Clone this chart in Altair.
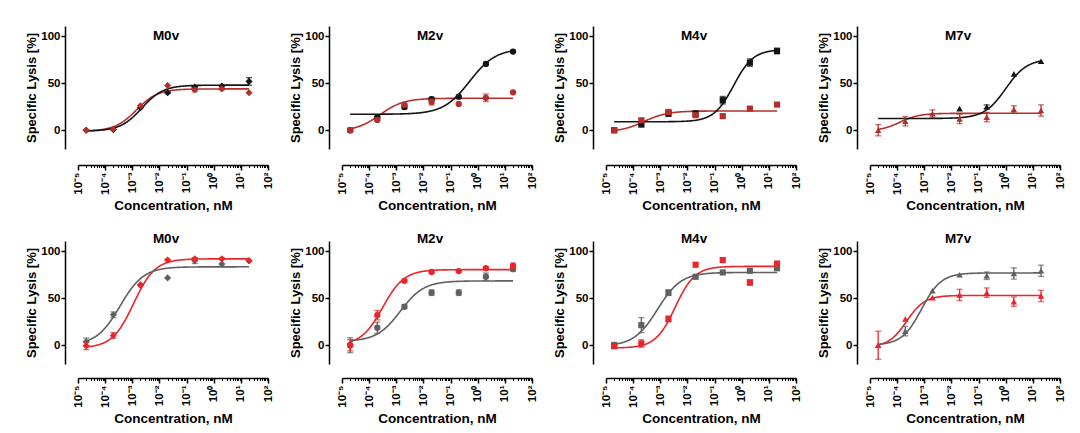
import math
import altair as alt
import pandas as pd

# ---------------- data ----------------
conc = [0.00002, 0.0002, 0.002, 0.02, 0.2, 2, 20]
panel_names = ["M0v", "M2v", "M4v", "M7v"]
panel_shapes = ["diamond", "circle", "square", "triangle-up"]

x_tick_values = [1e-5, 1e-4, 1e-3, 1e-2, 1e-1, 1e0, 1e1, 1e2]
x_tick_labels = ["10⁻⁵", "10⁻⁴", "10⁻³", "10⁻²", "10⁻¹", "10⁰", "10¹", "10²"]
x_minor_values = [m * 10.0 ** k for k in range(-5, 2) for m in range(2, 10)]
y_tick_values = [0, 50, 100]

# top row: black series and dark-red series (mean, error)
top_m0v_black = [0, 0.5, 24, 40, 46, 47, 52]
top_m0v_black_err = [0, 0, 0, 1, 1, 0, 4]
top_m0v_red = [0, 1, 26, 47.5, 43, 44, 40]
top_m0v_red_err = [0, 0, 0, 0, 2, 1, 0]

top_m2v_black = [0, 13.6, 24.6, 33, 35.7, 70.6, 83.8]
top_m2v_black_err = [2, 1, 2, 2, 0, 1, 1]
top_m2v_red = [0, 11, 27, 30, 28, 34.5, 40.4]
top_m2v_red_err = [2, 1, 1, 3, 0, 4, 0]

top_m4v_black = [0, 6, 17.7, 17.7, 32, 72, 84.4]
top_m4v_black_err = [1, 1, 3, 3, 4, 4, 3]
top_m4v_red = [0, 10.6, 19.5, 16, 15, 23, 27.3]
top_m4v_red_err = [0, 1, 1, 1, 0, 0, 0]

top_m7v_black = [None, None, None, 23, 25, 60, 73.5]
top_m7v_black_err = [0, 0, 0, 0, 2, 0, 0]
top_m7v_red = [0, 9.6, 17.7, 12, 14, 22, 21]
top_m7v_red_err = [6, 5, 4, 5, 5, 4, 6]

# bottom row: grey series and red series (mean, error)
bot_m0v_grey = [3.7, 32.4, 64.3, 71.7, 90, 86.4, 90]
bot_m0v_grey_err = [4, 3, 0, 0, 3, 0, 0]
bot_m0v_red = [-0.7, 10.3, 64, 90.8, 92, 92, 90]
bot_m0v_red_err = [4, 3, 0, 1, 1, 1, 0]

bot_m2v_grey = [0, 18.6, 41, 56, 56, 72.9, 81]
bot_m2v_grey_err = [8, 6, 2, 3, 3, 4, 2]
bot_m2v_red = [0, 32, 68.6, 78, 79, 82, 84.6]
bot_m2v_red_err = [6, 5, 1, 1, 1, 1, 3]

bot_m4v_grey = [0, 21.4, 56, 72.9, 77.5, 79.3, 82]
bot_m4v_grey_err = [3, 8, 3, 0, 0, 0, 0]
bot_m4v_red = [-1, 1.8, 28, 85.7, 90.7, 66.8, 87]
bot_m4v_red_err = [0, 4, 3, 0, 0, 3, 0]

bot_m7v_grey = [0, 15, 58, 75, 74, 76.4, 79.3]
bot_m7v_grey_err = [0, 5, 0, 0, 4, 6, 6]
bot_m7v_red = [0, 28, 50.7, 53.6, 56, 46.4, 52.5]
bot_m7v_red_err = [15, 0, 0, 6, 5, 5, 6]

# fitted 4-parameter curves: [bottom, top, logEC50, hill]
top_m0v_black_fit = [-1, 48, -2.65, 1.1]
top_m0v_red_fit = [-1, 44, -2.85, 1.1]
top_m2v_black_fit = [17, 87, -0.3, 0.9]
top_m2v_red_fit = [-1, 34, -3.6, 1.0]
top_m4v_black_fit = [9, 86, -0.3, 1.2]
top_m4v_red_fit = [-2, 20.5, -3.6, 1.0]
top_m7v_black_fit = [12.5, 76, 0.0, 1.1]
top_m7v_red_fit = [-1, 18, -3.9, 1.2]

bot_m0v_grey_fit = [0, 83.5, -3.45, 1.0]
bot_m0v_red_fit = [-3, 92, -2.95, 1.1]
bot_m2v_grey_fit = [4, 68.5, -2.85, 1.0]
bot_m2v_red_fit = [0, 80.5, -3.5, 1.1]
bot_m4v_grey_fit = [-1, 77.5, -3.1, 1.0]
bot_m4v_red_fit = [-3, 84, -2.45, 1.2]
bot_m7v_grey_fit = [0, 77, -3.1, 1.2]
bot_m7v_red_fit = [-2, 53, -3.65, 1.3]

# ---------------- styling ----------------
FONT = "Liberation Sans"
BLACK = "#141414"
DARK_RED = "#b3302d"
GREY = "#606060"
RED = "#e8262b"

W, H = 190, 123
Y_DOMAIN = [-20, 111]
X_DOMAIN = [1e-5, 1e2]

labels_js = "[" + ",".join("'" + s + "'" for s in x_tick_labels) + "]"
label_expr = labels_js + "[round(log(datum.value)/LN10) + 5]"

xscale = alt.Scale(type="log", domain=X_DOMAIN)
yscale = alt.Scale(domain=Y_DOMAIN, nice=False, zero=False)

y_axis = alt.Axis(values=y_tick_values, tickSize=4, tickWidth=1.5, domainWidth=1.5,
                  domainColor="black", tickColor="black", labelColor="black",
                  labelFontSize=11.5, labelFontWeight="bold", labelPadding=1,
                  title="Specific Lysis [%]", titleFontSize=13, titleFontWeight="bold",
                  titleColor="black", titlePadding=2, offset=13, grid=False)


def x_major_axis(offset):
    return alt.Axis(values=x_tick_values, labelExpr=label_expr, tickSize=5, tickWidth=1.5,
                    domainWidth=1.5, domainColor="black", tickColor="black",
                    labelColor="black", labelAngle=270, labelFontSize=11.5,
                    labelFontWeight="bold", labelPadding=2, labelOverlap=False,
                    labelFlush=False, title="Concentration, nM", titleFontSize=13.5,
                    titleFontWeight="bold", titleColor="black", titlePadding=4,
                    offset=offset, orient="bottom", grid=False)


def x_minor_axis(offset):
    return alt.Axis(values=x_minor_values, labels=False, domain=False, tickSize=2.5,
                    tickWidth=1, tickColor="black", title="", offset=offset,
                    orient="bottom", grid=False)


def curve_layer(fit, color, xaxis):
    b, t, ec, h = fit
    lo, hi = math.log10(conc[0]), math.log10(conc[-1])
    return (
        alt.Chart(alt.sequence(lo, hi + 0.001, 0.02, as_="t"))
        .transform_calculate(
            x="pow(10, datum.t)",
            y=f"{b} + ({t} - ({b})) / (1 + pow(10, ({h}) * (({ec}) - datum.t)))",
        )
        .mark_line(color=color, strokeWidth=1.6, clip=False)
        .encode(
            x=alt.X("x:Q", scale=xscale, axis=xaxis),
            y=alt.Y("y:Q", scale=yscale, axis=y_axis),
        )
    )


def series_layers(means, errs, color, shape, size, xaxis):
    df = pd.DataFrame({"conc": conc, "mean": means, "err": errs})
    df["mean"] = pd.to_numeric(df["mean"])
    df["lo"] = df["mean"] - df["err"]
    df["hi"] = df["mean"] + df["err"]
    base = alt.Chart(df)
    bars = (
        base.transform_filter("datum.err > 0 && isValid(datum.mean)")
        .mark_errorbar(color=color, thickness=1.3, ticks={"size": 6}, orient="vertical")
        .encode(
            x=alt.X("conc:Q", scale=xscale, axis=None),
            y=alt.Y("lo:Q", scale=yscale, axis=y_axis),
            y2="hi:Q",
        )
    )
    pts = (
        base.transform_filter("isValid(datum.mean)")
        .mark_point(filled=True, shape=shape, size=size, color=color, opacity=1)
        .encode(
            x=alt.X("conc:Q", scale=xscale, axis=xaxis),
            y=alt.Y("mean:Q", scale=yscale, axis=y_axis),
        )
    )
    return bars, pts


def title_layer(name, ty):
    return (
        alt.Chart(pd.DataFrame({"label": [name]}))
        .mark_text(font=FONT, fontSize=13.5, fontWeight="bold", color="black",
                   align="center", baseline="middle")
        .encode(text="label:N", x=alt.value(W / 2 - 7), y=alt.value(ty))
    )


def panel(name, shape, a, b, x_off, title_y):
    # a, b: (means, errs, fit, color)
    size = {"diamond": 50, "circle": 40, "square": 38, "triangle-up": 42}[shape]
    ca = curve_layer(a[2], a[3], x_minor_axis(x_off))
    cb = curve_layer(b[2], b[3], None)
    eb_b, pt_b = series_layers(b[0], b[1], b[3], shape, size, None)
    eb_a, pt_a = series_layers(a[0], a[1], a[3], shape, size, x_major_axis(x_off))
    return (
        alt.layer(cb, ca, eb_a, pt_a, eb_b, pt_b, title_layer(name, title_y))
        .resolve_axis(x="independent")
        .properties(width=W, height=H)
    )


top_sets = [
    ((top_m0v_black, top_m0v_black_err, top_m0v_black_fit, BLACK),
     (top_m0v_red, top_m0v_red_err, top_m0v_red_fit, DARK_RED)),
    ((top_m2v_black, top_m2v_black_err, top_m2v_black_fit, BLACK),
     (top_m2v_red, top_m2v_red_err, top_m2v_red_fit, DARK_RED)),
    ((top_m4v_black, top_m4v_black_err, top_m4v_black_fit, BLACK),
     (top_m4v_red, top_m4v_red_err, top_m4v_red_fit, DARK_RED)),
    ((top_m7v_black, top_m7v_black_err, top_m7v_black_fit, BLACK),
     (top_m7v_red, top_m7v_red_err, top_m7v_red_fit, DARK_RED)),
]
bot_sets = [
    ((bot_m0v_grey, bot_m0v_grey_err, bot_m0v_grey_fit, GREY),
     (bot_m0v_red, bot_m0v_red_err, bot_m0v_red_fit, RED)),
    ((bot_m2v_grey, bot_m2v_grey_err, bot_m2v_grey_fit, GREY),
     (bot_m2v_red, bot_m2v_red_err, bot_m2v_red_fit, RED)),
    ((bot_m4v_grey, bot_m4v_grey_err, bot_m4v_grey_fit, GREY),
     (bot_m4v_red, bot_m4v_red_err, bot_m4v_red_fit, RED)),
    ((bot_m7v_grey, bot_m7v_grey_err, bot_m7v_grey_fit, GREY),
     (bot_m7v_red, bot_m7v_red_err, bot_m7v_red_fit, RED)),
]

panels = []
for i, (a, b) in enumerate(top_sets):
    panels.append(panel(panel_names[i], panel_shapes[i], a, b, 16, 10))
for i, (a, b) in enumerate(bot_sets):
    panels.append(panel(panel_names[i], panel_shapes[i], a, b, 14, -2))

chart = (
    alt.concat(*panels, columns=4, spacing={"row": 92, "column": 74}, bounds="flush")
    .properties(padding={"left": 25, "top": 26, "right": 5, "bottom": 5}, background="white")
    .configure_view(stroke=None)
    .configure_axis(labelFont=FONT, titleFont=FONT)
)

chart.save("out.html", embed_options={"renderer": "svg", "actions": False})
